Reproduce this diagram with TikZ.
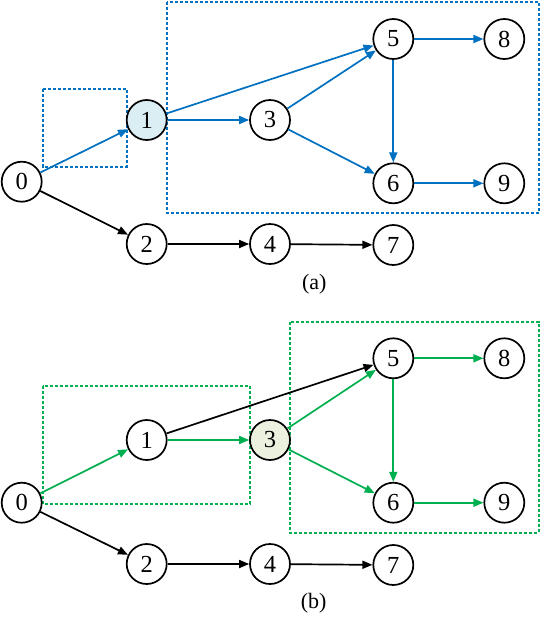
\documentclass[tikz,border=0pt]{standalone}
\usepackage{fontspec}
\setmainfont{Liberation Serif}
\usetikzlibrary{arrows.meta}
\definecolor{myblue}{HTML}{0070C0}
\definecolor{mygreen}{HTML}{00B050}
\definecolor{lblue}{HTML}{DAEEF3}
\definecolor{lgreen}{HTML}{EBF1DE}
\begin{document}
\begin{tikzpicture}[x=1pt,y=-1pt,
  vtx/.style={circle,draw=black,line width=1.7pt,minimum size=40pt,inner sep=0pt,font=\fontsize{24.5}{24.5}\selectfont},
  edge/.style={line width=1.7pt,-{Triangle[length=10pt,width=8pt]}},
  bedge/.style={edge,draw=myblue,-{Triangle[length=10pt,width=8pt,fill=myblue]}},
  gedge/.style={edge,draw=mygreen,-{Triangle[length=10pt,width=8pt,fill=mygreen]}},
  kedge/.style={edge,draw=black},
  bbox/.style={draw=myblue,line width=1.7pt,dash pattern=on 3pt off 2pt},
  gbox/.style={draw=mygreen,line width=1.7pt,dash pattern=on 3pt off 2pt},
  lab/.style={font=\fontsize{22}{22}\selectfont}]
\useasboundingbox (0,0) rectangle (541,633);
% panel (a)
\draw[bbox] (42.7,89.3) rectangle (126.7,166.7);
\draw[bbox] (166.7,1.7) rectangle (538.7,212.7);
\node[vtx] (a0) at (21.7,181.7) {0};
\node[vtx,fill=lblue] (a1) at (146.7,120) {1};
\node[vtx] (a2) at (146.7,244) {2};
\node[vtx] (a3) at (270,120) {3};
\node[vtx] (a4) at (270,244) {4};
\node[vtx] (a5) at (393.3,39) {5};
\node[vtx] (a6) at (393.3,183.3) {6};
\node[vtx] (a7) at (393.3,245) {7};
\node[vtx] (a8) at (504.3,39) {8};
\node[vtx] (a9) at (504.3,183.3) {9};
\draw[bedge] (a0) -- (a1);
\draw[kedge] (a0) -- (a2);
\draw[bedge] (a1) -- (a3);
\draw[bedge] (a1) -- (a5);
\draw[bedge] (a3) -- (a5);
\draw[bedge] (a3) -- (a6);
\draw[bedge] (a5) -- (a6);
\draw[bedge] (a5) -- (a8);
\draw[bedge] (a6) -- (a9);
\draw[kedge] (a2) -- (a4);
\draw[kedge] (a4) -- (a7);
\node[lab] (la) at (314.3,284) {(a)};
% panel (b)
\draw[gbox] (42.7,386) rectangle (250,504);
\draw[gbox] (290,322) rectangle (538.7,532.7);
\node[vtx] (b0) at (21.7,502.7) {0};
\node[vtx] (b1) at (146.7,440) {1};
\node[vtx] (b2) at (146.7,564) {2};
\node[vtx,fill=lgreen] (b3) at (270,440) {3};
\node[vtx] (b4) at (270,564) {4};
\node[vtx] (b5) at (393.3,358.3) {5};
\node[vtx] (b6) at (393.3,502.7) {6};
\node[vtx] (b7) at (393.3,565) {7};
\node[vtx] (b8) at (504.3,358.3) {8};
\node[vtx] (b9) at (504.3,502.7) {9};
\draw[gedge] (b0) -- (b1);
\draw[kedge] (b0) -- (b2);
\draw[gedge] (b1) -- (b3);
\draw[kedge] (b1) -- (b5);
\draw[gedge] (b3) -- (b5);
\draw[gedge] (b3) -- (b6);
\draw[gedge] (b5) -- (b6);
\draw[gedge] (b5) -- (b8);
\draw[gedge] (b6) -- (b9);
\draw[kedge] (b2) -- (b4);
\draw[kedge] (b4) -- (b7);
\node[lab] (lb) at (313.7,603.3) {(b)};
\end{tikzpicture}
\end{document}
